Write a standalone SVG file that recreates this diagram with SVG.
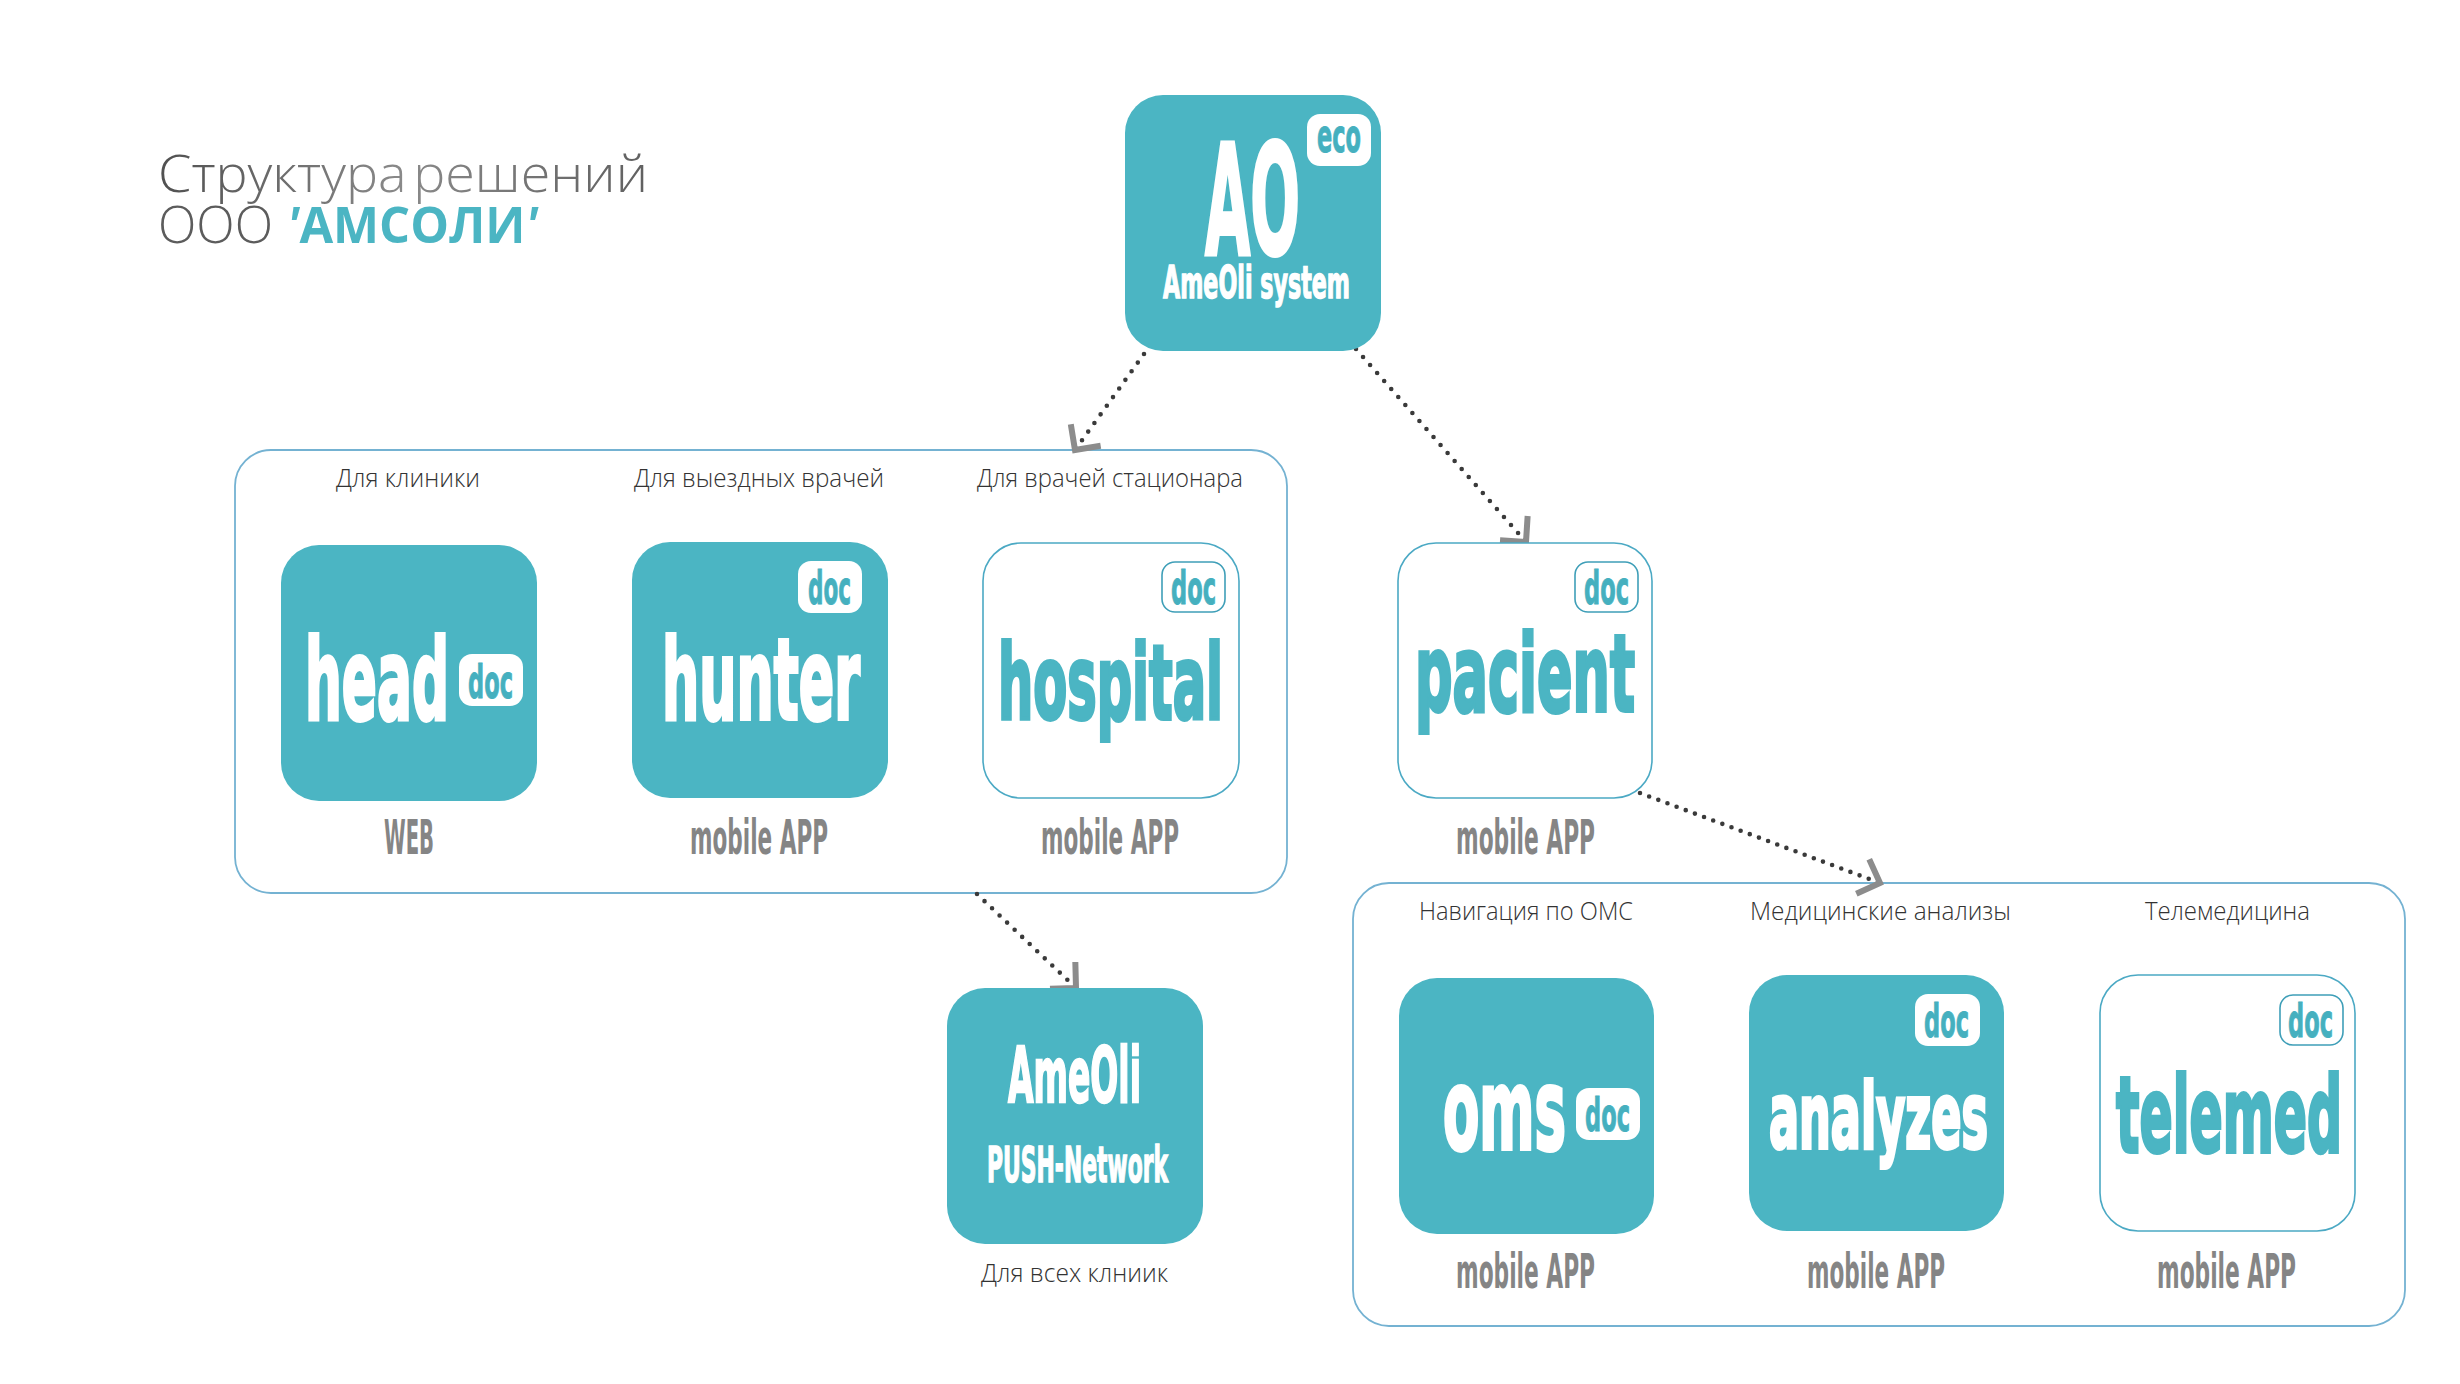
<svg xmlns="http://www.w3.org/2000/svg" width="2460" height="1384" viewBox="0 0 2460 1384">
<style>
.bg{fill:#fff}
.group{fill:#fff;stroke:#74b2d2;stroke-width:1.8}
.solid{fill:#4bb5c3}
.hollow{fill:#fff;stroke:#4ba9c4;stroke-width:1.6}
.badge{fill:#fff}
.badge-line{fill:#fff;stroke:#3f9fb8;stroke-width:1.6}
.logo{font-family:"DejaVu Sans","Liberation Sans",sans-serif;font-weight:700;stroke-linejoin:miter}
.w{fill:#fff;stroke:#fff;stroke-width:4}
.t{fill:#4bb5c3;stroke:#4bb5c3;stroke-width:4}
.w2{stroke-width:1.6}
.doc{font-family:"DejaVu Sans","Liberation Sans",sans-serif;font-weight:700;font-size:46px;fill:#45b0bf;stroke:#45b0bf;stroke-width:1}
.cap{font-family:"DejaVu Sans","Liberation Sans",sans-serif;font-weight:700;font-size:48px;fill:#858585}
.lab{font-family:"Open Sans","Liberation Sans",sans-serif;font-weight:300;font-size:25px;fill:#333}
.title{font-family:"Open Sans","Liberation Sans",sans-serif;font-weight:300;font-size:51px;word-spacing:-7px}
.dots{fill:none;stroke:#3a3a3a;stroke-width:4.6;stroke-linecap:round;marker-end:url(#chev)}
</style>
<defs>
<marker id="chev" markerUnits="userSpaceOnUse" markerWidth="44" markerHeight="44" refX="22" refY="22" orient="auto" overflow="visible">
<path d="M3.6 3.6L22 22L3.6 40.4" fill="none" stroke="#8c8c8c" stroke-width="6"/>
</marker>
<linearGradient id="tg" gradientUnits="userSpaceOnUse" x1="159" y1="0" x2="648" y2="0">
<stop offset="0" stop-color="#505050"/><stop offset=".5" stop-color="#8a8a8a"/><stop offset="1" stop-color="#606060"/>
</linearGradient>
</defs>
<rect class="bg" width="2460" height="1384"/>
<g id="title">
<text class="title" x="158" y="192" fill="url(#tg)" textLength="490" lengthAdjust="spacingAndGlyphs">Структура решений</text>
<text class="title" x="158" y="243" fill="#5c5c5c" textLength="115" lengthAdjust="spacingAndGlyphs">ООО</text>
<text class="title" x="287" y="243" fill="#4bb5c3" style="font-weight:700" textLength="251" lengthAdjust="spacingAndGlyphs"><tspan font-style="italic">'</tspan>АМСОЛИ<tspan font-style="italic">'</tspan></text>
</g>
<g id="group-clinic"><rect class="group" x="235" y="450" width="1052" height="443" rx="36"/>
<text class="lab" x="336" y="487" textLength="144" lengthAdjust="spacingAndGlyphs">Для клиники</text>
<text class="lab" x="634" y="487" textLength="250" lengthAdjust="spacingAndGlyphs">Для выездных врачей</text>
<text class="lab" x="977" y="487" textLength="266" lengthAdjust="spacingAndGlyphs">Для врачей стационара</text>
</g>
<g id="group-services"><rect class="group" x="1353" y="883" width="1052" height="443" rx="36"/>
<text class="lab" x="1419" y="920" textLength="214" lengthAdjust="spacingAndGlyphs">Навигация по ОМС</text>
<text class="lab" x="1750" y="920" textLength="261" lengthAdjust="spacingAndGlyphs">Медицинские анализы</text>
<text class="lab" x="2145" y="920" textLength="165" lengthAdjust="spacingAndGlyphs">Телемедицина</text>
</g>
<g id="connectors">
<path class="dots" stroke-dasharray="0 10.62" d="M1144 354L1075 450"/>
<path class="dots" stroke-dasharray="0 10.66" d="M1356 349L1526 542"/>
<path class="dots" stroke-dasharray="0 10.38" d="M977 894L1076 988"/>
<path class="dots" stroke-dasharray="0 9.77" d="M1640 793L1880 883"/>
</g>
<g id="node-ameoli-system">
<rect class="solid" x="1125" y="95" width="256" height="256" rx="38"/>
<text class="logo w" x="1205" y="254" font-size="154" textLength="95" lengthAdjust="spacingAndGlyphs">AO</text>
<rect class="badge" x="1307" y="114" width="64" height="52" rx="13"/>
<text class="doc" x="1317" y="152" textLength="44" lengthAdjust="spacingAndGlyphs">eco</text>
<text class="logo w w2" x="1163" y="298" font-size="45" textLength="187" lengthAdjust="spacingAndGlyphs">AmeOli system</text>
</g>
<g id="node-head">
<rect class="solid" x="281" y="545" width="256" height="256" rx="38"/>
<text class="logo w" x="305" y="719" font-size="112" textLength="144" lengthAdjust="spacingAndGlyphs">head</text>
<rect class="badge" x="459" y="654" width="64" height="52" rx="13"/>
<text class="doc" x="468" y="698" textLength="45" lengthAdjust="spacingAndGlyphs">doc</text>
<text class="cap" x="384" y="854" textLength="50" lengthAdjust="spacingAndGlyphs">WEB</text>
</g>
<g id="node-hunter">
<rect class="solid" x="632" y="542" width="256" height="256" rx="38"/>
<text class="logo w" x="662" y="719" font-size="112" textLength="198" lengthAdjust="spacingAndGlyphs">hunter</text>
<rect class="badge" x="798" y="561" width="64" height="52" rx="13"/>
<text class="doc" x="808" y="604" textLength="43" lengthAdjust="spacingAndGlyphs">doc</text>
<text class="cap" x="690" y="854" textLength="138" lengthAdjust="spacingAndGlyphs">mobile APP</text>
</g>
<g id="node-hospital">
<rect class="hollow" x="983" y="543" width="256" height="255" rx="38"/>
<text class="logo t" x="998" y="719" font-size="103" textLength="225" lengthAdjust="spacingAndGlyphs">hospital</text>
<rect class="badge-line" x="1162" y="562" width="63" height="50" rx="13"/>
<text class="doc" x="1171" y="604" textLength="45" lengthAdjust="spacingAndGlyphs">doc</text>
<text class="cap" x="1041" y="854" textLength="138" lengthAdjust="spacingAndGlyphs">mobile APP</text>
</g>
<g id="node-pacient">
<rect class="hollow" x="1398" y="543" width="254" height="255" rx="38"/>
<text class="logo t" x="1415" y="711" font-size="107" textLength="220" lengthAdjust="spacingAndGlyphs">pacient</text>
<rect class="badge-line" x="1575" y="562" width="63" height="50" rx="13"/>
<text class="doc" x="1584" y="604" textLength="45" lengthAdjust="spacingAndGlyphs">doc</text>
<text class="cap" x="1456" y="854" textLength="139" lengthAdjust="spacingAndGlyphs">mobile APP</text>
</g>
<g id="node-push">
<rect class="solid" x="947" y="988" width="256" height="256" rx="38"/>
<text class="logo w" x="1008" y="1102" font-size="76" textLength="133" lengthAdjust="spacingAndGlyphs" style="stroke-width:2.5">AmeOli</text>
<text class="logo w w2" x="987" y="1182" font-size="49" textLength="181" lengthAdjust="spacingAndGlyphs">PUSH-Network</text>
<text class="lab" x="981" y="1282" textLength="187" lengthAdjust="spacingAndGlyphs">Для всех клниик</text>
</g>
<g id="node-oms">
<rect class="solid" x="1399" y="978" width="255" height="256" rx="38"/>
<text class="logo w" x="1443" y="1149" font-size="112" textLength="123" lengthAdjust="spacingAndGlyphs">oms</text>
<rect class="badge" x="1576" y="1088" width="64" height="52" rx="13"/>
<text class="doc" x="1585" y="1131" textLength="45" lengthAdjust="spacingAndGlyphs">doc</text>
<text class="cap" x="1456" y="1288" textLength="139" lengthAdjust="spacingAndGlyphs">mobile APP</text>
</g>
<g id="node-analyzes">
<rect class="solid" x="1749" y="975" width="255" height="256" rx="38"/>
<text class="logo w" x="1769" y="1148" font-size="91" textLength="219" lengthAdjust="spacingAndGlyphs">analyzes</text>
<rect class="badge" x="1915" y="994" width="65" height="52" rx="13"/>
<text class="doc" x="1924" y="1037" textLength="45" lengthAdjust="spacingAndGlyphs">doc</text>
<text class="cap" x="1807" y="1288" textLength="138" lengthAdjust="spacingAndGlyphs">mobile APP</text>
</g>
<g id="node-telemed">
<rect class="hollow" x="2100" y="975" width="255" height="256" rx="38"/>
<text class="logo t" x="2116" y="1152" font-size="105" textLength="226" lengthAdjust="spacingAndGlyphs">telemed</text>
<rect class="badge-line" x="2280" y="995" width="63" height="50" rx="13"/>
<text class="doc" x="2288" y="1037" textLength="45" lengthAdjust="spacingAndGlyphs">doc</text>
<text class="cap" x="2157" y="1288" textLength="139" lengthAdjust="spacingAndGlyphs">mobile APP</text>
</g>
</svg>
